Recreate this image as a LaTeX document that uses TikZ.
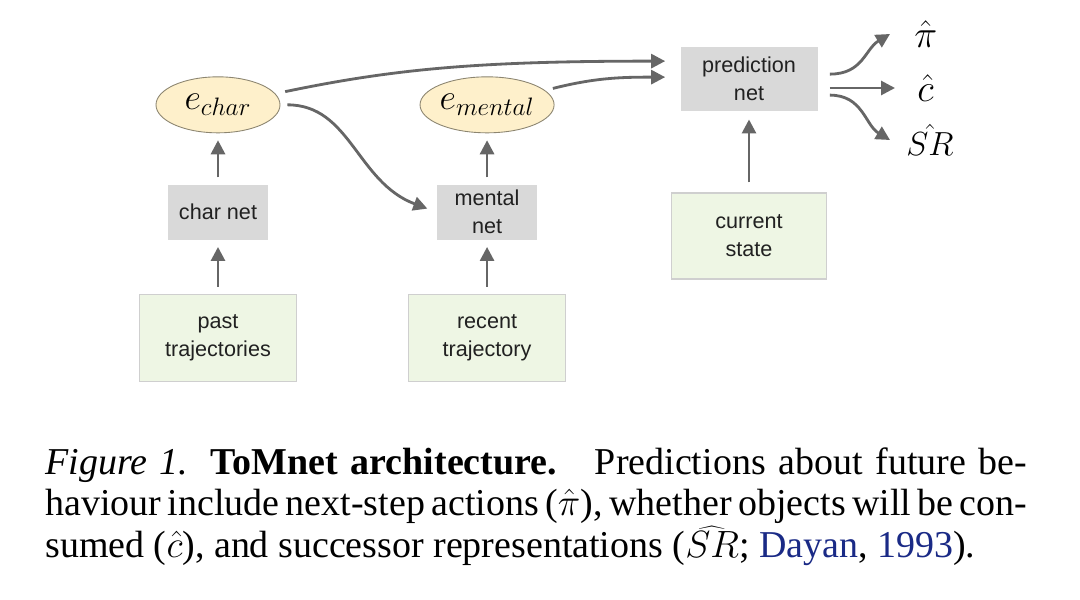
\documentclass[tikz,border=0pt]{standalone}
\usepackage{fix-cm}
\usepackage[no-math]{fontspec}
\setmainfont{Liberation Serif}
\newfontfamily\netfont{Liberation Sans}
\usetikzlibrary{positioning}
\usetikzlibrary{arrows.meta}
\usetikzlibrary{shapes.geometric}

\definecolor{netgray}{HTML}{D9D9D9}
\definecolor{inputgreen}{HTML}{EEF6E4}
\definecolor{inputborder}{HTML}{CFCFCF}
\definecolor{embedyellow}{HTML}{FEF0CB}
\definecolor{embedborder}{HTML}{8C8570}
\definecolor{arrowgray}{HTML}{666666}
\definecolor{textdark}{HTML}{212121}
\definecolor{citeblue}{HTML}{1A2A86}

\begin{document}
\begin{tikzpicture}

\tikzstyle{netbox}=[rectangle, fill=netgray, text=textdark, align=center, minimum width=2cm, minimum height=1.1cm, inner sep=2pt, font=\netfont\fontsize{12.3}{16}\selectfont]
\tikzstyle{inputbox}=[rectangle, fill=inputgreen, draw=inputborder, line width=0.6pt, text=textdark, align=center, minimum width=3.14cm, minimum height=1.74cm, font=\netfont\fontsize{12.3}{16}\selectfont]
\tikzstyle{embed}=[ellipse, fill=embedyellow, draw=embedborder, line width=0.5pt, minimum width=2.48cm, minimum height=1.12cm, inner sep=0pt, font=\fontsize{20.5}{20.5}\selectfont]
\tikzstyle{output}=[anchor=west, inner ysep=0pt, font=\fontsize{22}{22}\selectfont]
\tikzstyle{flow}=[draw=arrowgray, line width=1.6pt, shorten <=0.14cm, shorten >=0.14cm, -{Triangle[length=0.28cm,width=0.28cm]}]

\fill[white] (0,0) rectangle (21.6,-11.98);
\useasboundingbox (0,0) rectangle (21.6,-11.98);

% left column
\node[inputbox] (past) at (4.36,-6.76) {past\\trajectories};
\node[netbox, above=1.08cm of past] (charnet) {char net};
\node[embed, above=1.02cm of charnet] (echar) {$e_{char}$};

% middle column
\node[inputbox, right=2.22cm of past] (recent) {recent\\trajectory};
\node[netbox, above=1.08cm of recent] (mentalnet) {mental\\net};
\node[embed, above=1.02cm of mentalnet] (emental) {$e_{mental}$};

% right column
\node[inputbox, minimum width=3.1cm, minimum height=1.72cm] (current) at (14.98,-4.72) {current\\state};
\node[netbox, minimum width=2.74cm, minimum height=1.28cm, above=1.62cm of current] (pred) {prediction\\net};

% outputs
\node[output, inner xsep=0.48cm] (pihat) at (17.8,-0.68) {$\hat{\pi}$};
\node[output, inner xsep=0.44cm] (chat) at (17.9,-1.76) {$\hat{c}$};
\node[output, inner xsep=0.32cm, font=\fontsize{19}{19}\selectfont] (srhat) at (17.8,-2.8) {$\hat{SR}$};

\draw[flow](past) -- (charnet);
\draw[flow](charnet) -- (echar);
\draw[flow](recent) -- (mentalnet);
\draw[flow](mentalnet) -- (emental);
\draw[flow, shorten <=0.2cm, shorten >=0.16cm](current) -- (pred);
\draw[flow, shorten <=0.2cm, shorten >=0.3cm](echar.11) .. controls +(2.4,0.5) and +(-4,0) .. ([yshift=0.36cm]pred.west);
\draw[flow, shorten <=0.16cm, shorten >=0.3cm](emental.14) .. controls +(1,0.25) and +(-1.2,0) .. ([yshift=0.04cm]pred.west);
\draw[flow, shorten >=0.2cm](echar.east) .. controls +(1.4,0) and +(-1.6,0.6) .. (mentalnet.west);
\draw[flow, shorten <=0.24cm, shorten >=0cm]([yshift=0.1cm]pred.east) .. controls +(0.9,0) and +(-0.5,-0.3) .. (pihat.west);
\draw[flow, shorten <=0.24cm, shorten >=0cm](pred.east |- chat.west) -- (chat.west);
\draw[flow, shorten <=0.24cm, shorten >=0cm]([yshift=-0.32cm]pred.east) .. controls +(0.9,0) and +(-0.5,0.3) .. (srhat.west);

% caption
\node[anchor=north west, inner sep=0pt, text width=19.64cm, align=justify, font=\fontsize{21.6}{23.8}\selectfont] (caption) at (0.9,-8.94) {\textit{Figure 1.} \textbf{ToMnet architecture.}\quad Predictions about future be-\linebreak haviour include next-step actions ($\hat{\pi}$), whether objects will be con-\linebreak sumed ($\hat{c}$), and successor representations ($\widehat{SR}$; \textcolor{citeblue}{Dayan}, \textcolor{citeblue}{1993}).};

\end{tikzpicture}
\end{document}
